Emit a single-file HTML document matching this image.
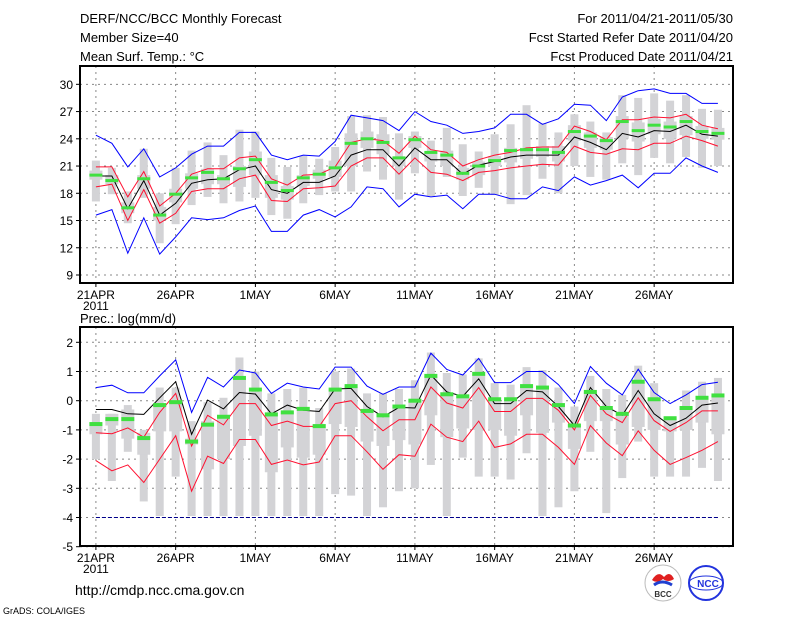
<!DOCTYPE html>
<html><head><meta charset="utf-8"><style>
body{margin:0;background:#fff;width:800px;height:618px;overflow:hidden;font-family:"Liberation Sans",sans-serif}
svg{display:block}
</style></head><body>
<svg id="c" width="800" height="618" xmlns="http://www.w3.org/2000/svg" font-family="Liberation Sans, sans-serif">
<g font-size="13" fill="#000">
<text x="80" y="23">DERF/NCC/BCC Monthly Forecast</text>
<text x="80" y="42">Member Size=40</text>
<text x="80" y="61">Mean Surf. Temp.: °C</text>
<text x="733" y="23" text-anchor="end">For 2011/04/21-2011/05/30</text>
<text x="733" y="42" text-anchor="end">Fcst Started Refer Date 2011/04/20</text>
<text x="733" y="61" text-anchor="end">Fcst Produced Date 2011/04/21</text>
<text x="80" y="323">Prec.: log(mm/d)</text>
</g>
<g id="top"></g>
<g id="bot"></g>
<text x="75" y="595" font-size="14">http://cmdp.ncc.cma.gov.cn</text>
<text x="3" y="614" font-size="9">GrADS: COLA/IGES</text>
<g>
<circle cx="663" cy="583" r="18" fill="#fff" stroke="#bbb"/>
<path d="M652 580 q6 -10 12 -3 q6 -7 10 2 q-6 4 -11 0 q-6 5 -11 1z" fill="#e02020"/>
<path d="M654 585 q8 -6 18 0" stroke="#2040d0" stroke-width="3" fill="none"/>
<text x="663" y="597" font-size="8" text-anchor="middle" font-weight="bold" fill="#333">BCC</text>
</g>
<g>
<circle cx="706" cy="583" r="17" fill="#fff" stroke="#2233dd" stroke-width="2"/>
<ellipse cx="706" cy="583" rx="17" ry="7" fill="none" stroke="#2233dd"/>
<text x="708" y="587" font-size="10" text-anchor="middle" font-weight="bold" fill="#2233dd">NCC</text>
</g>
</svg>
<script>
const NS="http://www.w3.org/2000/svg";
const dayLabels=["21APR","26APR","1MAY","6MAY","11MAY","16MAY","21MAY","26MAY"];
// ---- temperature data ----
const tBlueHi=[24.4,23.5,20.9,22.9,19.8,20.8,22.3,23.2,23.2,24.7,24.7,22.2,21.7,22.2,22.1,23.7,26.6,26.3,26.0,24.9,27.0,25.9,25.5,24.6,24.8,25.2,26.7,26.7,25.6,26.2,27.8,27.7,26.0,28.6,29.3,29.5,29.0,29.0,27.9,27.9];
const tBlueLo=[15.6,16.2,11.4,15.3,11.3,13.2,15.3,15.1,15.3,16.1,16.6,13.8,13.8,15.6,16.2,15.4,16.5,18.7,18.5,16.5,17.9,17.6,17.8,16.3,17.9,17.9,17.4,17.4,18.7,18.3,19.8,18.9,19.4,20.0,18.6,20.2,20.2,21.9,21.0,20.3];
const tRedHi=[20.9,20.9,17.6,20.4,16.6,18.0,20.1,20.7,20.7,21.9,22.1,19.6,18.9,20.0,20.1,20.9,23.6,24.0,23.8,22.4,24.3,22.8,22.5,21.0,21.7,22.2,22.5,23.0,23.1,23.1,25.4,24.8,23.9,26.1,26.1,26.4,26.3,26.7,25.5,25.1];
const tRedLo=[18.7,19.0,15.0,18.4,14.7,15.8,18.2,18.5,18.5,19.6,20.0,17.2,17.1,18.5,18.6,18.8,21.0,21.9,21.9,20.1,21.9,20.3,20.1,19.4,20.3,20.5,20.8,21.0,21.2,21.1,23.2,22.5,22.3,22.9,22.8,23.5,23.5,24.3,23.8,23.2];
const tMean=[19.9,19.9,16.3,19.4,15.6,16.9,19.1,19.5,19.6,20.6,21.0,18.4,18.0,19.2,19.2,19.9,22.2,22.8,22.8,21.0,23.0,21.7,21.7,20.1,21.1,21.5,22.0,22.2,22.2,22.2,24.2,23.6,22.8,24.6,24.2,24.9,24.8,25.5,24.5,24.3];
const tGreen=[20.0,19.4,16.4,19.6,15.6,17.9,19.7,20.3,19.6,20.7,21.7,19.2,18.3,19.7,20.1,20.8,23.5,24.0,23.6,21.9,23.9,22.5,22.2,20.2,21.0,21.6,22.7,22.8,22.8,22.5,24.8,24.3,23.8,25.9,24.9,25.5,25.3,25.9,24.8,24.6];
const tWhLo=[17.1,17.9,14.7,17.5,12.5,14.6,16.7,17.6,16.9,17.1,17.5,15.6,15.2,16.9,17.8,18.2,18.2,20.4,19.5,17.3,20.2,17.7,19.8,17.7,18.6,17.8,16.8,17.8,19.6,18.0,21.0,19.8,19.5,21.3,20.0,21.9,21.3,22.0,20.8,21.0];
const tWhHi=[21.6,20.8,18.2,22.9,18.0,20.8,22.7,23.6,22.2,25.0,24.8,21.9,20.9,22.1,21.8,23.1,26.5,26.6,26.4,24.6,24.8,23.8,25.2,23.4,22.6,24.5,25.6,27.7,25.7,24.7,26.7,25.9,24.7,28.8,28.5,29.0,28.2,28.8,27.3,27.2];
const tBoxLo=[19.5,19.0,15.8,18.5,15.0,17.0,18.5,19.0,19.0,18.7,20.0,17.5,17.3,18.8,19.6,19.8,21.0,23.0,22.3,21.0,23.0,21.5,21.0,19.5,20.0,21.0,21.4,21.8,22.0,21.5,23.8,23.0,22.8,24.0,23.7,24.5,24.0,24.4,24.0,23.9];
const tBoxHi=[20.5,20.0,17.0,20.0,16.5,18.5,20.2,20.7,20.0,21.0,22.6,20.0,18.8,20.0,20.6,21.6,24.6,24.8,24.5,22.0,24.3,22.5,22.7,20.8,21.5,22.1,23.0,23.0,23.2,23.2,25.5,24.7,24.2,26.5,25.8,26.2,25.9,26.5,25.4,25.2];
const tTicks=[9,12,15,18,21,24,27,30];
// ---- precipitation data ----
const pBlueHi=[0.45,0.53,0.27,0.27,0.85,1.4,-0.4,0.8,0.47,1.05,0.95,0.25,0.6,0.47,0.4,1.15,1.15,0.5,0.22,0.47,0.47,1.63,1.07,0.88,1.45,0.62,0.62,1.0,1.0,0.55,-0.1,1.17,0.6,0.2,1.08,0.28,-0.1,0.2,0.55,0.63];
const pRedHi=[-1.1,-1.13,-0.93,-1.25,-0.4,0.25,-1.55,-0.5,-0.83,-0.1,-0.1,-0.85,-0.7,-0.88,-0.88,-0.1,0.0,-0.55,-1.03,-0.65,-0.65,0.47,-0.08,-0.25,0.45,-0.37,-0.37,0.08,0.08,-0.33,-1.0,0.18,-0.45,-0.75,0.1,-0.68,-1.05,-0.75,-0.35,-0.35];
const pRedLo=[-2.05,-2.4,-2.2,-2.8,-2.0,-1.2,-3.1,-1.9,-2.15,-1.33,-1.33,-2.18,-2.03,-2.2,-2.1,-1.2,-1.2,-1.75,-2.35,-1.85,-1.9,-0.8,-1.25,-1.4,-0.7,-1.6,-1.48,-1.15,-1.15,-1.6,-2.18,-0.85,-1.45,-1.88,-1.03,-1.7,-2.18,-1.95,-1.7,-1.4];
const pMean=[-0.3,-0.3,-0.45,-0.47,0.1,0.65,-1.15,0.02,-0.28,0.28,0.23,-0.45,-0.15,-0.33,-0.37,0.4,0.42,-0.2,-0.55,-0.23,-0.25,0.88,0.3,0.15,0.75,-0.1,-0.1,0.35,0.3,-0.2,-0.85,0.45,-0.2,-0.5,0.35,-0.45,-0.85,-0.6,-0.15,-0.08];
const pGreen=[-0.8,-0.63,-0.63,-1.28,-0.15,-0.05,-1.4,-0.82,-0.55,0.78,0.38,-0.47,-0.4,-0.28,-0.87,0.38,0.5,-0.35,-0.5,-0.2,0.0,0.85,0.22,0.15,0.92,0.05,0.05,0.5,0.45,-0.15,-0.85,0.3,-0.25,-0.45,0.65,0.05,-0.6,-0.25,0.1,0.18];
const pWhLo=[-2.0,-2.75,-1.75,-3.45,-3.95,-2.6,-3.95,-3.95,-3.95,-3.95,-3.95,-3.95,-3.95,-3.95,-3.95,-3.2,-3.25,-3.95,-3.65,-3.1,-3.0,-2.2,-3.95,-1.95,-2.6,-2.6,-2.7,-1.8,-3.95,-3.65,-3.1,-1.75,-3.85,-2.65,-1.4,-2.6,-2.6,-2.6,-2.3,-2.75];
const pWhHi=[-0.45,-0.45,-0.15,-1.0,0.45,0.45,-0.7,-0.05,0.1,1.48,1.0,0.25,0.4,0.45,-0.25,1.0,1.1,0.25,0.25,0.4,0.7,1.65,0.95,0.9,1.45,0.6,0.55,1.15,1.05,0.45,-0.2,0.85,0.4,0.2,1.2,0.6,-0.6,0.35,0.65,0.78];
const pBoxLo=[-1.15,-0.85,-1.3,-1.85,-1.05,-1.05,-1.5,-2.35,-2.0,-1.55,-1.2,-2.45,-1.6,-1.95,-1.85,-0.8,-0.9,-1.4,-1.55,-1.35,-1.5,-0.5,-1.25,-0.95,-1.0,-1.0,-1.2,-0.5,-1.1,-0.75,-1.65,-0.7,-0.7,-1.5,-0.9,-1.0,-1.05,-1.0,-0.75,-1.15];
const pBoxHi=[-0.75,-0.45,-0.3,-1.1,-0.1,0.0,-1.3,-0.7,-0.5,0.8,0.3,-0.4,-0.35,-0.3,-0.8,0.4,0.5,-0.3,-0.5,-0.2,0.0,0.85,0.2,0.2,0.9,0.05,0.05,0.5,0.45,-0.2,-0.8,0.3,-0.25,-0.5,0.65,0.05,-0.6,-0.25,0.1,0.2];
const pFloor=-4;
const pTicks=[-5,-4,-3,-2,-1,0,1,2];

const X0=80,X1=733;
const xDay=i=>95.9+15.95*i;
function el(parent,tag,attrs){const e=document.createElementNS(NS,tag);for(const k in attrs)e.setAttribute(k,attrs[k]);parent.appendChild(e);return e;}
function panel(g,top,bot,yOf,ticks,S){
  ticks.forEach(t=>{const y=yOf(t);
    const l=el(g,'line',{x1:X0,x2:X1,y1:y,y2:y,stroke:'#888','stroke-dasharray':'2,4','stroke-width':1});
    
    const tx=el(g,'text',{x:73,y:y+4.5,'text-anchor':'end','font-size':12});tx.textContent=t;
    
    el(g,'line',{x1:X0-4,x2:X0,y1:y,y2:y,stroke:'#000'});
  });
  dayLabels.forEach((d,k)=>{const x=xDay(k*5);
    const l=el(g,'line',{x1:x,x2:x,y1:top,y2:bot,stroke:'#888','stroke-dasharray':'2,4','stroke-width':1});
    
    el(g,'line',{x1:x,x2:x,y1:bot,y2:bot+4,stroke:'#000'});
    const tx=el(g,'text',{x:x,y:bot+16,'text-anchor':'middle','font-size':12});tx.textContent=d;
    
  });
  const yr=el(g,'text',{x:xDay(0),y:bot+27,'text-anchor':'middle','font-size':12});yr.textContent='2011';
  
  S.whLo.forEach((v,i)=>{const x=xDay(i);
    const w=el(g,'rect',{x:x-4,width:8,y:yOf(S.whHi[i]),height:yOf(v)-yOf(S.whHi[i]),fill:'#d3d3d6'});
    
    const b=el(g,'rect',{x:x-6.5,width:13,y:yOf(S.boxHi[i]),height:yOf(S.boxLo[i])-yOf(S.boxHi[i]),fill:'#d3d3d6'});
    
  });
  if(S.floor!==undefined){const y=yOf(S.floor);
    const l=el(g,'line',{x1:xDay(0),x2:xDay(39),y1:y,y2:y,stroke:'#00008b','stroke-dasharray':'4,2'});
    }
  const line=(arr,col,name)=>{const p=el(g,'polyline',{points:arr.map((v,i)=>xDay(i).toFixed(1)+','+yOf(v).toFixed(1)).join(' '),fill:'none',stroke:col,'stroke-width':1});
    };
  line(S.blueHi,'#0000ff','max-line');
  if(S.blueLo)line(S.blueLo,'#0000ff','min-line');
  line(S.redHi,'#ff1030','upper-spread-line');
  line(S.redLo,'#ff1030','lower-spread-line');
  line(S.mean,'#000','ensemble-mean-line');
  S.green.forEach((v,i)=>{const r=el(g,'rect',{x:xDay(i)-6.5,width:13,y:yOf(v)-S.gh/2,height:S.gh,fill:'#40e040'});
    });
  const f=el(g,'rect',{x:X0,y:top,width:X1-X0,height:bot-top,fill:'none',stroke:'#000','stroke-width':2});
  
}
const yT=v=>275-(v-9)*9.08;
const yP=v=>546.7-(v+5)*29.2;
panel(document.getElementById('top'),66,283,yT,tTicks,{blueHi:tBlueHi,blueLo:tBlueLo,redHi:tRedHi,redLo:tRedLo,mean:tMean,green:tGreen,whLo:tWhLo,whHi:tWhHi,boxLo:tBoxLo,boxHi:tBoxHi,gh:3});
panel(document.getElementById('bot'),327,546,yP,pTicks,{blueHi:pBlueHi,redHi:pRedHi,redLo:pRedLo,mean:pMean,green:pGreen,whLo:pWhLo,whHi:pWhHi,boxLo:pBoxLo,boxHi:pBoxHi,floor:pFloor,gh:4});
</script>
</body></html>
